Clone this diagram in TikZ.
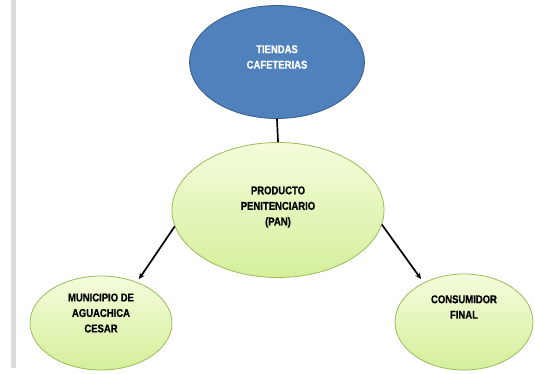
\documentclass[tikz,border=0pt]{standalone}
\usepackage{fontspec}
\newfontfamily\lblfont{Liberation Sans}[FakeStretch=0.84,UprightFont={* Bold},FakeBold=0.6]
\usetikzlibrary{shapes.geometric,arrows.meta}
\definecolor{topblue}{HTML}{4F81BD}
\definecolor{topedge}{HTML}{385D8A}
\definecolor{gtop}{HTML}{F4FCDC}
\definecolor{gbot}{HTML}{D5EF9A}
\definecolor{gedge}{HTML}{9BBB59}
\definecolor{barg}{HTML}{DCDCDC}
\tikzset{
  x=1pt,y=-1pt,
  lbl/.style={font=\lblfont\fontsize{11.3}{15.5}\selectfont,align=center},
  greenell/.style={ellipse,draw=gedge,line width=0.8pt,top color=gtop,bottom color=gbot,inner sep=0pt},
  conn/.style={line width=1.7pt,black},
  arr/.style={conn,-{Stealth[length=6pt,width=5.5pt]}}
}
\begin{document}
\begin{tikzpicture}
\useasboundingbox (0,0) rectangle (535,373);
\fill[white] (0,0) rectangle (535,373);
\fill[barg] (11,0) rectangle (16,368);
% ellipses
\node[ellipse,draw=topedge,line width=0.8pt,fill=topblue,minimum width=175pt,minimum height=113pt,inner sep=0pt] (top) at (277,62) {};
\node[greenell,minimum width=212pt,minimum height=135pt] (mid) at (278,210) {};
\node[greenell,minimum width=142pt,minimum height=94pt] (left) at (101,323) {};
\node[greenell,minimum width=138pt,minimum height=96pt] (right) at (464,322) {};
% texts
\node[lbl,text=white] (ttop) at (277,57) {TIENDAS\\CAFETERIAS};
\node[lbl] (tmid) at (278,207) {PRODUCTO\\PENITENCIARIO\\(PAN)};
\node[lbl] (tleft) at (101,313) {MUNICIPIO DE\\AGUACHICA\\CESAR};
\node[lbl] (tright) at (464,307) {CONSUMIDOR\\FINAL};
% connectors
\draw[conn] (top.south) -- (mid.north);
\draw[arr] (mid.-171) -- (139,279) coordinate (la);
\draw[arr] (mid.-8) -- (421,279) coordinate (ra);
\end{tikzpicture}
\end{document}
